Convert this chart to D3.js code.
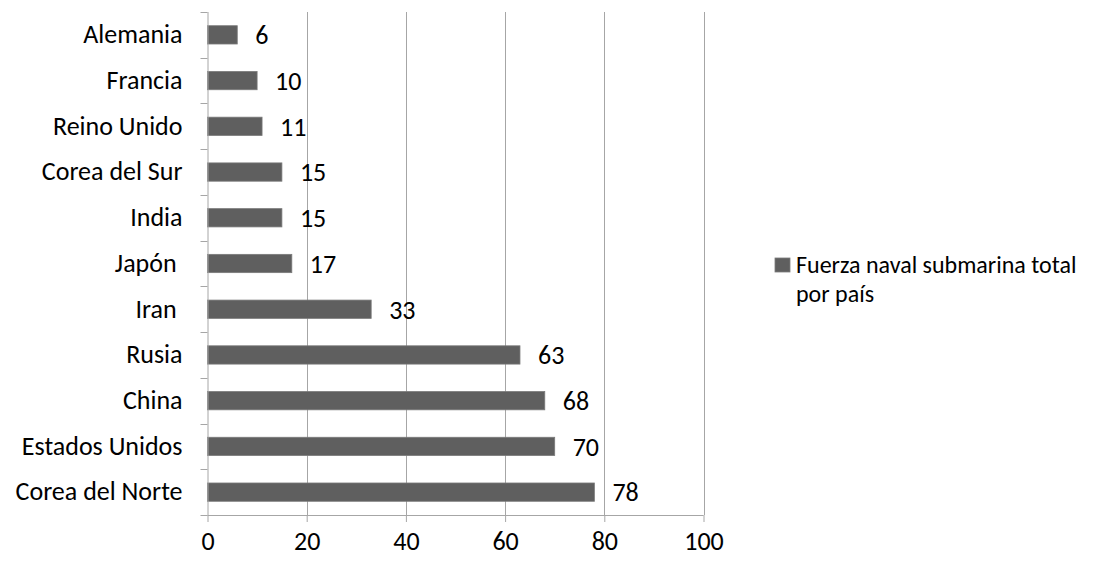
<!DOCTYPE html>
<html>
<head>
<meta charset="utf-8">
<script src="https://cdn.jsdelivr.net/npm/d3@7"></script>
<style>
  html, body { margin: 0; padding: 0; background: #fff; }
  svg text { font-family: Carlito, Lato, "Open Sans", sans-serif; fill: #000; white-space: pre; }
</style>
</head>
<body>
<svg id="chart" width="1112" height="562"></svg>
<script>
// Submarine fleet size by country (top to bottom as drawn)
const countries = ["Alemania", "Francia", "Reino Unido", "Corea del Sur", "India", "Japón ", "Iran ", "Rusia", "China", "Estados Unidos", "Corea del Norte"];
const submarines = [6, 10, 11, 15, 15, 17, 33, 63, 68, 70, 78];
const xTicks = [0, 20, 40, 60, 80, 100];
const seriesName = ["Fuerza naval submarina total", "por país"];

const svg = d3.select("#chart");
const plotLeft = 207.5, plotRight = 703.5, plotTop = 12, plotBottom = 515;
const fontSize = 26;

const x = d3.scaleLinear().domain([0, 100]).range([plotLeft, plotRight]);
const y = d3.scaleBand().domain(countries).range([plotTop, plotBottom]).paddingInner(0.6).paddingOuter(0.3);
const band = d3.scaleBand().domain(countries).range([plotTop, plotBottom]);

const gridColor = "#a6a6a6";

// vertical gridlines
svg.append("g").selectAll("line").data(xTicks.slice(1)).join("line")
  .attr("x1", d => Math.round(x(d)) + 0.5).attr("x2", d => Math.round(x(d)) + 0.5)
  .attr("y1", plotTop).attr("y2", plotBottom)
  .attr("stroke", gridColor).attr("stroke-width", 1);

// bars
svg.append("g").selectAll("rect").data(countries).join("rect")
  .attr("x", plotLeft)
  .attr("y", d => y(d))
  .attr("width", (d, i) => x(submarines[i]) - plotLeft)
  .attr("height", y.bandwidth())
  .attr("fill", "#5f5f5f")
  .attr("stroke", "#7a7a7a").attr("stroke-width", 0.8);

// value labels
svg.append("g").selectAll("text").data(countries).join("text")
  .attr("x", (d, i) => x(submarines[i]) + 18)
  .attr("y", d => y(d) + y.bandwidth() / 2)
  .attr("dy", "0.36em")
  .attr("font-size", fontSize)
  .text((d, i) => submarines[i]);

// x axis
const xAxis = svg.append("g").attr("transform", `translate(0,${plotBottom})`)
  .call(d3.axisBottom(x).tickValues(xTicks).tickSize(7).tickPadding(10));
xAxis.attr("font-size", null).attr("font-family", null);
xAxis.select(".domain").attr("stroke", gridColor).attr("d", `M${plotLeft},0.5H${plotRight}`);
xAxis.selectAll(".tick line").attr("stroke", gridColor);
xAxis.selectAll(".tick text").attr("font-size", fontSize);

// y axis
const yAxis = svg.append("g").attr("transform", `translate(${plotLeft},0)`)
  .call(d3.axisLeft(band).tickSize(0).tickPadding(25));
yAxis.attr("font-size", null).attr("font-family", null);
yAxis.select(".domain").attr("stroke", gridColor).attr("d", `M0.5,${plotTop}V${plotBottom}`);
yAxis.selectAll(".tick text").attr("font-size", fontSize);
// boundary tick marks between categories
const edges = d3.range(countries.length + 1).map(i => plotTop + i * band.step());
yAxis.append("g").selectAll("line").data(edges).join("line")
  .attr("x1", -7).attr("x2", 0)
  .attr("y1", d => Math.round(d) + 0.5).attr("y2", d => Math.round(d) + 0.5)
  .attr("stroke", gridColor);

// legend
const legend = svg.append("g").attr("transform", "translate(775,258)");
legend.append("rect").attr("width", 15).attr("height", 14).attr("fill", "#5f5f5f").attr("stroke", "#7a7a7a").attr("stroke-width", 0.8);
legend.append("text").attr("x", 21).attr("y", 15).attr("font-size", 24).text(seriesName[0]);
legend.append("text").attr("x", 21).attr("y", 44).attr("font-size", 24).text(seriesName[1]);
</script>
</body>
</html>
